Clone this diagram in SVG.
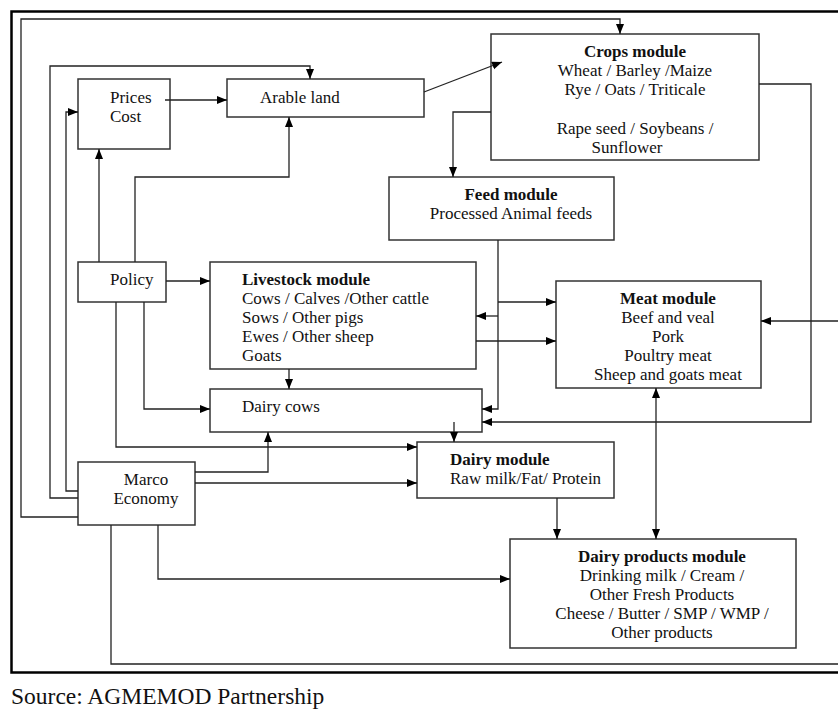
<svg xmlns="http://www.w3.org/2000/svg" width="838" height="709" viewBox="0 0 838 709">
<defs>
<marker id="ah" markerUnits="userSpaceOnUse" markerWidth="11" markerHeight="9" refX="10" refY="4" orient="auto"><path d="M0,0 L10,4 L0,8 z" fill="#000"/></marker>
<marker id="ahs" markerUnits="userSpaceOnUse" markerWidth="11" markerHeight="9" refX="0" refY="4" orient="auto"><path d="M10,0 L0,4 L10,8 z" fill="#000"/></marker>
<style>
.box{fill:#fff;stroke:#333;stroke-width:1.5}
.c{fill:none;stroke:#222;stroke-width:1.3;marker-end:url(#ah)}
.l{fill:none;stroke:#222;stroke-width:1.3}
text{font-family:"Liberation Serif","Times New Roman",serif;font-size:17px;fill:#111}
.b{font-weight:bold}
.m{text-anchor:middle}
</style>
</defs>
<rect width="838" height="709" fill="#fff"/>
<path d="M840,11.5 H11.5 V672.5 H840" fill="none" stroke="#000" stroke-width="2.5"/>
<g id="prices"><rect class="box" x="78" y="79" width="92" height="70"/><text x="110" y="103">Prices</text><text x="110" y="122">Cost</text></g>
<g id="arable"><rect class="box" x="227" y="79" width="197" height="38"/><text x="260" y="103">Arable land</text></g>
<g id="crops"><rect class="box" x="491" y="34" width="268" height="126"/>
<text class="m b" x="635" y="57">Crops module</text>
<text class="m" x="635" y="76">Wheat / Barley /Maize</text>
<text class="m" x="635" y="95">Rye / Oats / Triticale</text>
<text class="m" x="635" y="134">Rape seed / Soybeans /</text>
<text class="m" x="627" y="153">Sunflower</text></g>
<g id="feed"><rect class="box" x="389" y="177" width="225" height="63"/>
<text class="m b" x="511" y="200">Feed module</text>
<text class="m" x="511" y="219">Processed Animal feeds</text></g>
<g id="policy"><rect class="box" x="78" y="262" width="88" height="40"/><text x="110" y="285">Policy</text></g>
<g id="livestock"><rect class="box" x="210" y="262" width="266" height="107"/>
<text class="b" x="242" y="285">Livestock module</text>
<text x="242" y="304">Cows / Calves /Other cattle</text>
<text x="242" y="323">Sows / Other pigs</text>
<text x="242" y="342">Ewes / Other sheep</text>
<text x="242" y="361">Goats</text></g>
<g id="meat"><rect class="box" x="556" y="281" width="205" height="107"/>
<text class="m b" x="668" y="304">Meat module</text>
<text class="m" x="668" y="323">Beef and veal</text>
<text class="m" x="668" y="342">Pork</text>
<text class="m" x="668" y="361">Poultry meat</text>
<text class="m" x="668" y="380">Sheep and goats meat</text></g>
<g id="dairycows"><rect class="box" x="210" y="389" width="272" height="43"/><text x="242" y="412">Dairy cows</text></g>
<g id="dairy"><rect class="box" x="417" y="442" width="197" height="56"/>
<text class="b" x="450" y="465">Dairy module</text>
<text x="450" y="484">Raw milk/Fat/ Protein</text></g>
<g id="marco"><rect class="box" x="78" y="462" width="117" height="63"/>
<text class="m" x="146" y="485">Marco</text>
<text class="m" x="146" y="504">Economy</text></g>
<g id="dairyproducts"><rect class="box" x="510" y="539" width="286" height="109"/>
<text class="m b" x="662" y="562">Dairy products module</text>
<text class="m" x="662" y="581">Drinking milk / Cream /</text>
<text class="m" x="662" y="600">Other Fresh Products</text>
<text class="m" x="662" y="619">Cheese / Butter / SMP / WMP /</text>
<text class="m" x="662" y="638">Other products</text></g>
<g id="connectors">
<path class="c" d="M78,517 H21 V19 H620 V34"/>
<path class="c" d="M78,498 H50 V66 H310 V79"/>
<path class="c" d="M78,491 H66 V112 H78"/>
<path class="c" d="M165,100 H227"/>
<path class="c" d="M424,92 L502,62"/>
<path class="c" d="M491,112 H453 V177"/>
<path class="c" d="M759,84 H811 V422 H482"/>
<path class="c" d="M498,240 V409 H482"/>
<path class="c" d="M498,302 H556"/>
<path class="c" d="M498,316 H476"/>
<path class="c" d="M476,341 H556"/>
<path class="c" d="M99,262 V149"/>
<path class="c" d="M135,262 V177 H289 V117"/>
<path class="c" d="M166,281 H210"/>
<path class="c" d="M116,302 V447 H417"/>
<path class="c" d="M144,302 V409 H210"/>
<path class="c" d="M289,369 V389"/>
<path class="c" d="M195,472 H268 V432"/>
<path class="c" d="M195,483 H417"/>
<path class="c" d="M158,525 V579 H510"/>
<path class="l" d="M111,525 V664 H838"/>
<path class="c" d="M838,321 H761"/>
<path class="c" d="M454,422 V442"/>
<path class="c" d="M557,498 V539"/>
<path class="c" style="marker-start:url(#ahs)" d="M656,388 V539"/>
</g>
<text x="11" y="704" style="font-size:23.5px">Source: AGMEMOD Partnership</text>
</svg>
